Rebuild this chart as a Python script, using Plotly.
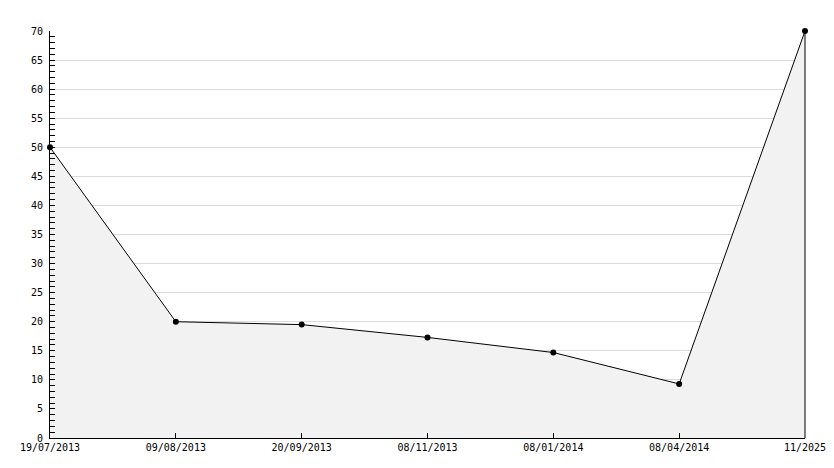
import plotly.graph_objects as go

dates = ["19/07/2013", "09/08/2013", "20/09/2013", "08/11/2013", "08/01/2014", "08/04/2014", "11/2025"]
values = [50, 20, 19.5, 17.3, 14.7, 9.3, 70]

fig = go.Figure()
fig.add_trace(go.Scatter(
    x=dates, y=values, mode="lines+markers",
    fill="tozeroy", fillcolor="#f2f2f2",
    line=dict(color="black", width=1),
    marker=dict(color="black", size=6, symbol="circle"),
    cliponaxis=False,
))

font = dict(family="DejaVu Sans Mono, monospace", size=10, color="black")
fig.update_layout(
    width=834, height=468, autosize=False,
    margin=dict(l=50, r=29, t=31, b=30),
    paper_bgcolor="white", plot_bgcolor="white",
    showlegend=False, font=font,
    xaxis=dict(type="category", range=[0, 6], showgrid=False, automargin=False,
               showline=True, linecolor="black", linewidth=1,
               ticks="inside", ticklen=5, tickcolor="black", tickfont=font),
    yaxis=dict(range=[0, 70], dtick=5, tick0=0, showgrid=True, gridcolor="#dddddd",
               automargin=False, ticklabelstandoff=4,
               showline=True, linecolor="black", linewidth=1, zeroline=False,
               ticks="inside", ticklen=5, tickcolor="black", tickfont=font,
               minor=dict(dtick=1, ticks="inside", ticklen=5, tickcolor="black", showgrid=False)),
)
fig.add_shape(type="line", xref="x domain", yref="y domain", x0=1, x1=1, y0=0, y1=1,
              line=dict(color="black", width=1))
fig.write_html("out.html", config={"displayModeBar": False},
               post_script="document.body.style.margin='0';document.body.style.overflow='hidden';")
